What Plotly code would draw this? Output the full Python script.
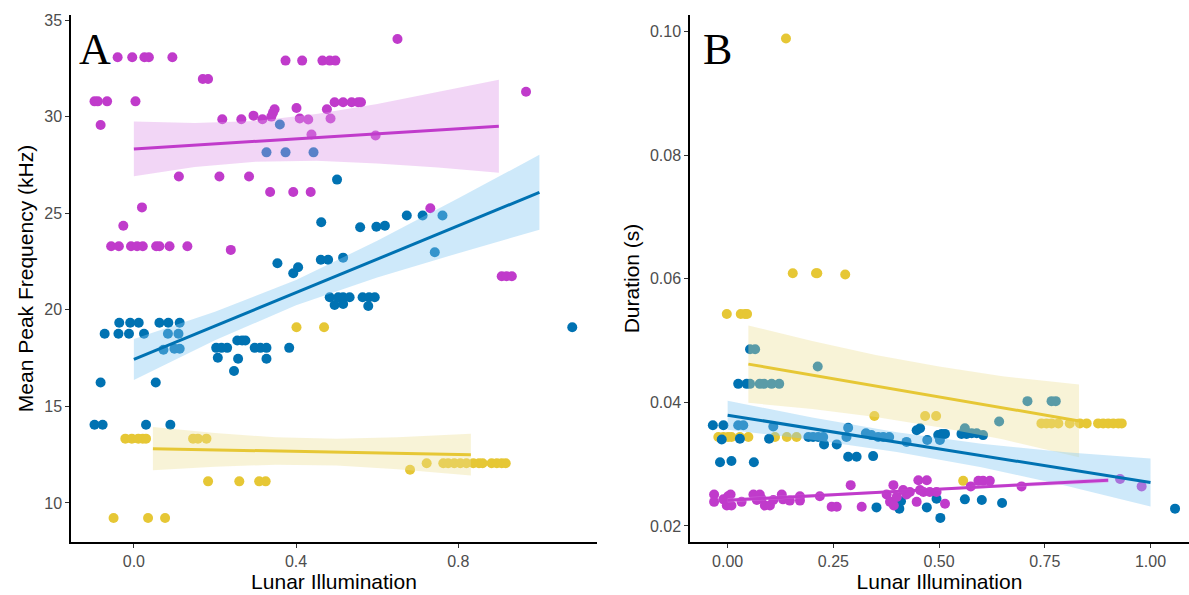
import plotly.graph_objects as go

# ---------------- Panel A : Mean Peak Frequency (kHz) ----------------
magenta_A_x = [-0.040, -0.004, 0.026, 0.037, 0.095,
               0.374, 0.415, 0.465, 0.483, 0.497,
               0.650, 0.170, 0.183,
               -0.097, -0.089, -0.066, 0.004, -0.082,
               0.218, 0.265, 0.295, 0.317, 0.339, 0.347, 0.343, 0.401, 0.409, 0.430, 0.438, 0.476, 0.485,
               0.495, 0.516, 0.537, 0.553, 0.560,
               0.596, 0.967,
               0.111, 0.211, 0.284,
               0.336, 0.393, 0.436,
               0.020, -0.026,
               -0.056, -0.037, -0.007, 0.008, 0.022, 0.055, 0.063, 0.088, 0.132,
               0.239, 0.731,
               0.907, 0.919, 0.932]
magenta_A_y = [33.07, 33.07, 33.07, 33.07, 33.07,
               32.90, 32.90, 32.90, 32.90, 32.90,
               34.02, 31.95, 31.95,
               30.79, 30.79, 30.79, 30.79, 29.57,
               29.86, 29.86, 30.05, 29.86, 30.00, 30.38, 30.20, 30.45, 29.90, 29.85, 29.07, 30.38, 29.90,
               30.74, 30.74, 30.74, 30.74, 30.74,
               29.02, 31.29,
               26.90, 26.90, 26.90,
               26.10, 26.10, 26.10,
               25.30, 24.35,
               23.29, 23.29, 23.29, 23.29, 23.29, 23.29, 23.29, 23.29, 23.29,
               23.10, 25.26,
               21.74, 21.74, 21.74]

blue_A_x = [0.360, 0.327, 0.374, 0.443,
            0.501, 0.462, 0.558, 0.598, 0.619, 0.673, 0.712, 0.761, 0.742,
            0.354, 0.393, 0.405, 0.461, 0.479, 0.516,
            -0.036, -0.009, 0.012, 0.063, 0.085, 0.113,
            -0.072, -0.038, -0.012, 0.025, 0.084, 0.110,
            0.073, 0.100, 0.113,
            0.203, 0.216, 0.230, 0.255, 0.267, 0.275, 0.298, 0.312, 0.327, 0.383,
            0.207, 0.257, 0.327, 0.247,
            -0.082, 0.054,
            -0.097, -0.077, 0.030, 0.090,
            0.483, 0.504, 0.516, 0.532, 0.564, 0.580, 0.594,
            0.495, 0.516, 0.578,
            1.081]
blue_A_y = [29.59, 28.15, 28.15, 28.15,
            26.74, 24.53, 24.27, 24.30, 24.35, 24.88, 24.88, 24.88, 22.98,
            22.41, 21.89, 22.20, 22.59, 22.59, 22.70,
            19.33, 19.33, 19.33, 19.33, 19.33, 19.33,
            18.76, 18.76, 18.76, 18.76, 18.76, 18.76,
            17.93, 17.98, 17.98,
            18.03, 18.03, 18.03, 18.41, 18.41, 18.41, 18.03, 18.03, 18.03, 18.03,
            17.52, 17.47, 17.47, 16.83,
            16.24, 16.24,
            14.05, 14.05, 14.05, 14.05,
            20.65, 20.65, 20.65, 20.65, 20.65, 20.65, 20.65,
            20.25, 20.30, 20.20,
            19.10]

yellow_A_x = [-0.021, -0.005, 0.011, 0.022, 0.030, 0.146, 0.158, 0.179,
              0.401, 0.469,
              0.183, 0.260, 0.309, 0.325,
              -0.050, 0.035, 0.077,
              0.681, 0.722, 0.763, 0.775, 0.790, 0.805, 0.820, 0.837, 0.851, 0.860,
              0.882, 0.895, 0.907, 0.917]
yellow_A_y = [13.33, 13.33, 13.33, 13.33, 13.33, 13.33, 13.33, 13.33,
              19.10, 19.10,
              11.12, 11.12, 11.12, 11.12,
              9.22, 9.22, 9.22,
              11.72, 12.06, 12.06, 12.06, 12.06, 12.06, 12.06, 12.06, 12.06, 12.06,
              12.06, 12.06, 12.06, 12.06]

# fitted lines and confidence bands
fitA_magenta_x = [0.0, 0.15, 0.30, 0.45, 0.60, 0.75, 0.90]
fitA_magenta_y = [28.33, 28.53, 28.72, 28.92, 29.11, 29.31, 29.50]
fitA_magenta_lo = [26.91, 27.39, 27.67, 27.71, 27.57, 27.36, 27.09]
fitA_magenta_hi = [29.75, 29.67, 29.77, 30.13, 30.65, 31.26, 31.91]

fitA_blue_x = [0.0, 0.2, 0.4, 0.6, 0.8, 1.0]
fitA_blue_y = [17.43, 19.16, 20.89, 22.62, 24.35, 26.08]
fitA_blue_lo = [16.37, 18.42, 20.24, 21.67, 22.93, 24.14]
fitA_blue_hi = [18.49, 19.90, 21.54, 23.57, 25.77, 28.02]

fitA_yellow_x = [0.047, 0.20, 0.35, 0.50, 0.65, 0.831]
fitA_yellow_y = [12.81, 12.75, 12.69, 12.63, 12.57, 12.50]
fitA_yellow_lo = [11.69, 11.88, 11.98, 11.94, 11.74, 11.42]
fitA_yellow_hi = [13.93, 13.62, 13.40, 13.32, 13.40, 13.58]

# ---------------- Panel B : Duration (s) ----------------
yellow_B_x = [-0.002, 0.031, 0.041, 0.046,
              0.138, 0.154, 0.209, 0.212, 0.278,
              -0.022, -0.010, 0.001, 0.009, 0.029, 0.049, 0.112, 0.140, 0.163,
              0.347, 0.467, 0.493, 0.557,
              0.742, 0.754, 0.766, 0.782, 0.809, 0.833, 0.849, 0.876, 0.888, 0.900, 0.912, 0.924, 0.932]
yellow_B_y = [0.0543, 0.0543, 0.0543, 0.0543,
              0.0989, 0.0609, 0.0609, 0.0609, 0.0607,
              0.0344, 0.0344, 0.0344, 0.0344, 0.0344, 0.0344, 0.0344, 0.0344, 0.0344,
              0.0378, 0.0378, 0.0378, 0.0273,
              0.0366, 0.0366, 0.0366, 0.0366, 0.0366, 0.0366, 0.0366, 0.0366, 0.0366, 0.0366, 0.0366, 0.0366, 0.0366]

blue_B_x = [0.053, 0.065, 0.213, 0.025, 0.045, 0.053, 0.076, 0.086, 0.104, 0.122, 0.709, 0.766, 0.776, 0.642,
            -0.035, -0.010, 0.025, 0.037, 0.108,
            -0.014, 0.029, 0.098,
            0.191, 0.202, 0.214, 0.226, 0.228, 0.258, 0.281, 0.285,
            0.327, 0.340, 0.356, 0.368, 0.382,
            0.423, 0.447, 0.455, 0.472, 0.498, 0.506, 0.514, 0.502,
            0.553, 0.561, 0.565, 0.577, 0.589, 0.604,
            -0.018, 0.009, 0.062,
            0.285, 0.305, 0.344,
            0.352, 0.406, 0.471, 0.494, 0.503, 0.410,
            0.561, 0.601, 0.649, 1.058]
blue_B_y = [0.0486, 0.0486, 0.0458, 0.0430, 0.0430, 0.0430, 0.0430, 0.0430, 0.0430, 0.0430, 0.0402, 0.0402, 0.0402, 0.0369,
            0.0363, 0.0363, 0.0363, 0.0363, 0.0361,
            0.0340, 0.0341, 0.0341,
            0.0344, 0.0344, 0.0344, 0.0344, 0.0332, 0.0332, 0.0344, 0.0359,
            0.0350, 0.0347, 0.0344, 0.0344, 0.0344,
            0.0336, 0.0355, 0.0358, 0.0339, 0.0347, 0.0349, 0.0349, 0.0339,
            0.0349, 0.0358, 0.0349, 0.0350, 0.0350, 0.0347,
            0.0303, 0.0305, 0.0303,
            0.0312, 0.0312, 0.0313,
            0.0230, 0.0228, 0.0230, 0.0244, 0.0213, 0.0240,
            0.0243, 0.0242, 0.0237, 0.0228]

magenta_B_x = [-0.032, -0.032, -0.010, 0.001, 0.007, -0.002, 0.009, 0.033,
               0.061, 0.076, 0.069, 0.080, 0.088, 0.100, 0.108, 0.128, 0.131, 0.147,
               0.171, 0.171, 0.218, 0.246, 0.258, 0.291, 0.317,
               0.376, 0.384, 0.392, 0.393, 0.400, 0.415, 0.423, 0.431, 0.447,
               0.451, 0.471, 0.455, 0.463, 0.478, 0.494, 0.514,
               0.575, 0.593, 0.604, 0.620, 0.695, 0.928, 0.979]
magenta_B_y = [0.0251, 0.0239, 0.0243, 0.0248, 0.0251, 0.0233, 0.0233, 0.0239,
               0.0251, 0.0251, 0.0242, 0.0244, 0.0233, 0.0233, 0.0242, 0.0251, 0.0243, 0.0241,
               0.0248, 0.0241, 0.0248, 0.0231, 0.0231, 0.0266, 0.0231,
               0.0251, 0.0239, 0.0266, 0.0233, 0.0247, 0.0258, 0.0251, 0.0255, 0.0239,
               0.0274, 0.0274, 0.0258, 0.0255, 0.0255, 0.0255, 0.0236,
               0.0264, 0.0273, 0.0273, 0.0273, 0.0264, 0.0276, 0.0264]

fitB_yellow_x = [0.049, 0.20, 0.35, 0.50, 0.65, 0.831]
fitB_yellow_y = [0.04619, 0.04442, 0.04265, 0.04089, 0.03913, 0.03700]
fitB_yellow_lo = [0.03993, 0.03892, 0.03765, 0.03599, 0.03403, 0.03110]
fitB_yellow_hi = [0.05245, 0.04992, 0.04765, 0.04579, 0.04423, 0.04290]

fitB_blue_x = [0.0, 0.2, 0.4, 0.6, 0.8, 1.0]
fitB_blue_y = [0.03793, 0.03575, 0.03357, 0.03139, 0.02921, 0.02703]
fitB_blue_lo = [0.03558, 0.03395, 0.03197, 0.02949, 0.02651, 0.02313]
fitB_blue_hi = [0.04028, 0.03755, 0.03517, 0.03329, 0.03191, 0.03093]

fitB_magenta_x = [0.0, 0.45, 0.90]
fitB_magenta_y = [0.02416, 0.02578, 0.02740]
fitB_magenta_lo = [0.02380, 0.02560, 0.02700]
fitB_magenta_hi = [0.02452, 0.02596, 0.02780]

# ---------------- styles ----------------
BLUE = "#0072B2"
MAGENTA = "#C03BCB"
YELLOW = "#E6C735"
FILL = {"blue": "rgba(132,200,242,0.40)",
        "magenta": "rgba(222,152,232,0.40)",
        "yellow": "rgba(237,224,150,0.38)"}
LINE = {"blue": BLUE, "magenta": MAGENTA, "yellow": YELLOW}

fig = go.Figure()


def add_points(x, y, color, xa, ya):
    fig.add_trace(go.Scatter(x=x, y=y, mode="markers", xaxis=xa, yaxis=ya,
                             marker=dict(color=color, size=10, line=dict(width=0)),
                             showlegend=False, hoverinfo="skip"))


def add_fit(fx, fy, lo, hi, key, xa, ya):
    fig.add_trace(go.Scatter(x=fx + fx[::-1], y=hi + lo[::-1], mode="lines", fill="toself",
                             fillcolor=FILL[key], line=dict(width=0),
                             xaxis=xa, yaxis=ya, showlegend=False, hoverinfo="skip"))
    fig.add_trace(go.Scatter(x=fx, y=fy, mode="lines", line=dict(color=LINE[key], width=3),
                             xaxis=xa, yaxis=ya, showlegend=False, hoverinfo="skip"))


# Panel A
add_points(magenta_A_x, magenta_A_y, MAGENTA, "x", "y")
add_points(blue_A_x, blue_A_y, BLUE, "x", "y")
add_points(yellow_A_x, yellow_A_y, YELLOW, "x", "y")
add_fit(fitA_magenta_x, fitA_magenta_y, fitA_magenta_lo, fitA_magenta_hi, "magenta", "x", "y")
add_fit(fitA_blue_x, fitA_blue_y, fitA_blue_lo, fitA_blue_hi, "blue", "x", "y")
add_fit(fitA_yellow_x, fitA_yellow_y, fitA_yellow_lo, fitA_yellow_hi, "yellow", "x", "y")

# Panel B
add_points(yellow_B_x, yellow_B_y, YELLOW, "x2", "y2")
add_points(blue_B_x, blue_B_y, BLUE, "x2", "y2")
add_points(magenta_B_x, magenta_B_y, MAGENTA, "x2", "y2")
add_fit(fitB_yellow_x, fitB_yellow_y, fitB_yellow_lo, fitB_yellow_hi, "yellow", "x2", "y2")
add_fit(fitB_blue_x, fitB_blue_y, fitB_blue_lo, fitB_blue_hi, "blue", "x2", "y2")
add_fit(fitB_magenta_x, fitB_magenta_y, fitB_magenta_lo, fitB_magenta_hi, "magenta", "x2", "y2")

W, H = 1189, 595
tickfont = dict(family="Liberation Sans, Arial, sans-serif", size=16, color="#4D4D4D")
titlefont = dict(family="Liberation Sans, Arial, sans-serif", size=21, color="black")
axis_common = dict(showgrid=False, zeroline=False, showline=True, linecolor="black", linewidth=1.5,
                   ticks="outside", ticklen=4, tickwidth=1.2, tickcolor="#333333",
                   tickfont=tickfont, mirror=False)

A_x = [0, 0.4, 0.8]
A_xt = ["0.0", "0.4", "0.8"]
A_y = [10, 15, 20, 25, 30, 35]
B_x = [0, 0.25, 0.5, 0.75, 1.0]
B_xt = ["0.00", "0.25", "0.50", "0.75", "1.00"]
B_y = [0.02, 0.04, 0.06, 0.08, 0.10]
B_yt = ["0.02", "0.04", "0.06", "0.08", "0.10"]

fig.update_layout(
    width=W, height=H, plot_bgcolor="white", paper_bgcolor="white",
    margin=dict(l=0, r=0, t=15, b=53),
    xaxis=dict(domain=[71 / W, 597 / W], range=[-0.155, 1.142], tickvals=A_x, ticktext=A_xt,
               title=dict(text="Lunar Illumination", font=titlefont, standoff=5), anchor="y", **axis_common),
    yaxis=dict(domain=[0, 1], range=[7.98, 35.26], tickvals=A_y,
               title=dict(text="Mean Peak Frequency (kHz)", font=titlefont, standoff=5), anchor="x", **axis_common),
    xaxis2=dict(domain=[690 / W, 1.0], range=[-0.089, 1.091], tickvals=B_x, ticktext=B_xt,
                title=dict(text="Lunar Illumination", font=titlefont, standoff=5), anchor="y2", **axis_common),
    yaxis2=dict(domain=[0, 1], range=[0.0174, 0.1027], tickvals=B_y, ticktext=B_yt,
                title=dict(text="Duration (s)", font=titlefont, standoff=5), anchor="x2", **axis_common),
    annotations=[
        dict(text="A", xref="x domain", yref="y domain", x=0.012, y=0.985, xanchor="left", yanchor="top",
             showarrow=False, font=dict(family="Liberation Serif, Times New Roman, serif", size=44, color="black")),
        dict(text="B", xref="x2 domain", yref="y2 domain", x=0.022, y=0.985, xanchor="left", yanchor="top",
             showarrow=False, font=dict(family="Liberation Serif, Times New Roman, serif", size=44, color="black")),
    ],
)

fig.write_html("out.html")
